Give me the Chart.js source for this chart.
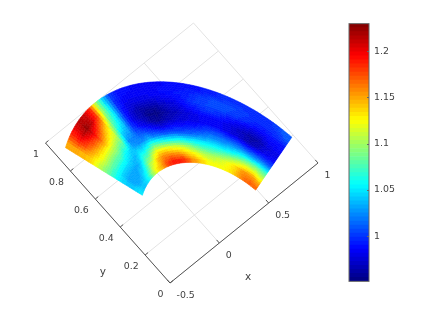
<!DOCTYPE html>
<html>
<head>
<meta charset="utf-8">
<script src="https://cdn.jsdelivr.net/npm/chart.js@4"></script>
<style>
    html, body { margin: 0; padding: 0; background: #fff; overflow: hidden; }
    #surfaceChart { position: absolute; left: 0; top: 0; }
    #colorbarChart { position: absolute; left: 340px; top: 13px; }
</style>
</head>
<body>
<canvas id="surfaceChart" width="423" height="317"></canvas>
<canvas id="colorbarChart" width="80" height="279"></canvas>
<script>
// Axis ticks
const xTicks = [-0.5, 0, 0.5, 1];
const xTickLabels = ['-0.5', '0', '0.5', '1'];
const yTicks = [0, 0.2, 0.4, 0.6, 0.8, 1];
const yTickLabels = ['0', '0.2', '0.4', '0.6', '0.8', '1'];
const cbarTicks = [1, 1.05, 1.1, 1.15, 1.2];
const cbarMin = 0.9512;
const cbarMax = 1.2298;

// Mesh edges, polar
const rMin = 0.5;
const rMax = 1;
const thetaMin = 11.25;
const thetaMax = 114;

// Surface values, inner ring first, each one running from the small angle to the large one
const ring0 = [1.165,1.17,1.165,1.155,1.14,1.13,1.125,1.122,1.122,1.125,1.135,1.145,1.155,1.17,1.185,1.188,1.188,1.185,1.17,1.15,1.135,1.12,1.095,1.065,1.05,1.04,1.04,1.05];
const ring1 = [1.145,1.155,1.155,1.15,1.135,1.125,1.115,1.11,1.105,1.105,1.11,1.12,1.13,1.14,1.15,1.155,1.16,1.16,1.155,1.14,1.115,1.1,1.065,1.045,1.035,1.03,1.03,1.04];
const ring2 = [1.11,1.12,1.12,1.115,1.105,1.095,1.085,1.078,1.075,1.075,1.078,1.085,1.095,1.105,1.112,1.115,1.12,1.125,1.125,1.105,1.08,1.07,1.045,1.033,1.03,1.03,1.03,1.04];
const ring3 = [1.08,1.085,1.08,1.075,1.065,1.055,1.05,1.05,1.05,1.047,1.047,1.048,1.05,1.055,1.058,1.06,1.065,1.07,1.075,1.06,1.05,1.05,1.035,1.04,1.045,1.045,1.045,1.05];
const ring4 = [1.035,1.035,1.03,1.03,1.03,1.028,1.025,1.025,1.025,1.02,1.015,1.012,1.01,1.01,1.01,1.01,1.015,1.02,1.03,1.025,1.025,1.03,1.045,1.055,1.065,1.065,1.065,1.065];
const ring5 = [1.0,1.0,0.998,0.995,1.0,1.0,1.002,1.005,1.005,1.0,0.995,0.992,0.99,0.99,0.985,0.98,0.985,0.995,1.005,1.01,1.02,1.025,1.07,1.08,1.09,1.09,1.09,1.085];
const ring6 = [0.985,0.98,0.97,0.965,0.97,0.975,0.98,0.985,0.985,0.985,0.98,0.978,0.975,0.97,0.965,0.958,0.962,0.975,0.985,1.0,1.03,1.04,1.095,1.105,1.115,1.115,1.115,1.105];
const ring7 = [0.98,0.975,0.965,0.962,0.968,0.975,0.98,0.985,0.985,0.985,0.98,0.975,0.97,0.965,0.958,0.953,0.955,0.965,0.975,0.995,1.04,1.06,1.115,1.13,1.145,1.14,1.135,1.125];
const ring8 = [0.985,0.982,0.975,0.975,0.98,0.985,0.99,0.995,0.998,0.995,0.99,0.985,0.975,0.972,0.965,0.96,0.96,0.965,0.975,0.995,1.045,1.075,1.13,1.155,1.175,1.165,1.155,1.14];
const ring9 = [0.99,0.99,0.988,0.99,0.995,1.0,1.003,1.005,1.005,1.002,0.998,0.99,0.985,0.98,0.978,0.975,0.975,0.975,0.98,0.995,1.05,1.09,1.155,1.18,1.2,1.19,1.175,1.145];
const ring10 = [1.0,0.998,0.995,0.995,1.0,1.003,1.005,1.005,1.003,1.0,0.995,0.992,0.99,0.988,0.985,0.985,0.983,0.983,0.985,0.998,1.05,1.1,1.18,1.21,1.225,1.21,1.185,1.15];
const ring11 = [1.012,1.0,0.998,0.998,0.998,0.998,0.998,0.995,0.993,0.99,0.99,0.988,0.988,0.986,0.985,0.985,0.985,0.987,0.99,1.0,1.045,1.105,1.185,1.21,1.215,1.2,1.18,1.15];
const rings = [ring0, ring1, ring2, ring3, ring4, ring5, ring6, ring7, ring8, ring9, ring10, ring11];

const textColor = '#404040';
const gridColor = '#e3e3e3';
const axisColor = '#555555';
const tickFont = '9.4px "DejaVu Sans"';
const shadeSteps = 3;

// 3D view flattened onto the page scales
function project(x, y) {
    return {
        x: 170 + (x + 0.5) * 98.67 - 124.5 * y,
        y: 283 - (x + 0.5) * 80 - 140 * y
    };
}

function jet(v) {
    const level = Math.min(63, Math.max(0, Math.floor((v - cbarMin) / (cbarMax - cbarMin) * 64)));
    const t = (level + 0.5) / 64;
    const ch = c => Math.round(255 * Math.min(1, Math.max(0, 1.5 - Math.abs(4 * t - c))));
    return `rgb(${ch(3)},${ch(2)},${ch(1)})`;
}

function lineSet(points, color) {
    return {
        data: points,
        showLine: true,
        borderColor: color,
        borderWidth: 1,
        pointRadius: 0
    };
}

// Chart.js paints the first dataset last, so dark axes go in before the grid
const datasets = [];
datasets.push(lineSet([project(-0.5, 1), project(-0.5, 0), project(1, 0)], axisColor));
xTicks.forEach(x => datasets.push(lineSet([project(x, 0), project(x, 0.022)], axisColor)));
yTicks.forEach(y => datasets.push(lineSet([project(-0.5, y), project(-0.47, y)], axisColor)));
xTicks.forEach(x => datasets.push(lineSet([project(x, 0), project(x, 1)], gridColor)));
yTicks.forEach(y => datasets.push(lineSet([project(-0.5, y), project(1, y)], gridColor)));

// One point per mesh node, the plugin below shades the surface between them
const dr = (rMax - rMin) / rings.length;
const dTheta = (thetaMax - thetaMin) / ring0.length;
function polar(r, theta) {
    const a = theta * Math.PI / 180;
    return project(r * Math.cos(a), r * Math.sin(a));
}
const nodes = [];
rings.forEach((ring, i) => ring.forEach((v, j) => {
    const r = rMin + (i + 0.5) * dr;
    const theta = thetaMin + (j + 0.5) * dTheta;
    nodes.push({ ...polar(r, theta), r, theta, v });
}));
datasets.push({ label: 'surface', data: nodes, pointRadius: 0 });

// Interpolated shading, like shading interp in the original plot
function shade(r, theta) {
    const u = Math.min(rings.length - 1, Math.max(0, (r - rMin) / dr - 0.5));
    const w = Math.min(ring0.length - 1, Math.max(0, (theta - thetaMin) / dTheta - 0.5));
    const i = Math.min(rings.length - 2, Math.floor(u));
    const j = Math.min(ring0.length - 2, Math.floor(w));
    const a = u - i, b = w - j;
    return (1 - a) * ((1 - b) * rings[i][j] + b * rings[i][j + 1]) + a * ((1 - b) * rings[i + 1][j] + b * rings[i + 1][j + 1]);
}

const surfacePlugin = {
    id: 'surfacePlugin',
    afterDatasetsDraw(chart) {
        const { ctx, scales } = chart;
        const sr = dr / shadeSteps;
        const st = dTheta / shadeSteps;
        ctx.save();
        ctx.lineWidth = 0.6;
        for (let i = 0; i < rings.length * shadeSteps; i++) {
            for (let j = 0; j < ring0.length * shadeSteps; j++) {
                const r = rMin + i * sr;
                const t = thetaMin + j * st;
                const corners = [polar(r, t), polar(r + sr, t), polar(r + sr, t + st), polar(r, t + st)];
                ctx.fillStyle = ctx.strokeStyle = jet(shade(r + sr / 2, t + st / 2));
                ctx.beginPath();
                corners.forEach((p, k) => {
                    const px = scales.x.getPixelForValue(p.x);
                    const py = scales.y.getPixelForValue(p.y);
                    k ? ctx.lineTo(px, py) : ctx.moveTo(px, py);
                });
                ctx.closePath();
                ctx.fill();
                ctx.stroke();
            }
        }
        ctx.restore();
    },
    afterDraw(chart) {
        const { ctx, scales } = chart;
        const put = (text, p, dx, dy, align, font) => {
            ctx.font = font;
            ctx.textAlign = align;
            ctx.textBaseline = 'middle';
            ctx.fillStyle = textColor;
            ctx.fillText(text, scales.x.getPixelForValue(p.x) + dx, scales.y.getPixelForValue(p.y) + dy);
        };
        ctx.save();
        xTicks.forEach((x, i) => put(xTickLabels[i], project(x, 0), 6.5, 13, 'left', tickFont));
        yTicks.forEach((y, i) => put(yTickLabels[i], project(-0.5, y), -6.5, 11.5, 'right', tickFont));
        put('x', project(0.25, 0), 4, 54, 'center', '10.5px "DejaVu Sans"');
        put('y', project(-0.5, 0.5), -5, 59, 'center', '10.5px "DejaVu Sans"');
        ctx.restore();
    }
};

new Chart(document.getElementById('surfaceChart').getContext('2d'), {
    type: 'scatter',
    data: { datasets },
    plugins: [surfacePlugin],
    options: {
        responsive: false,
        animation: false,
        layout: { padding: 0 },
        plugins: { legend: { display: false }, tooltip: { enabled: false } },
        scales: {
            x: { type: 'linear', display: false, min: 0, max: 423 },
            y: { type: 'linear', display: false, min: 0, max: 317, reverse: true }
        }
    }
});

// Colorbar, 64 floating segments on a real value axis
const cbarSets = [];
for (let k = 0; k < 64; k++) {
    const lo = cbarMin + (cbarMax - cbarMin) * k / 64;
    const hi = cbarMin + (cbarMax - cbarMin) * (k + 1) / 64;
    cbarSets.push({
        data: [[lo, hi]],
        backgroundColor: jet((lo + hi) / 2),
        barPercentage: 1,
        categoryPercentage: 1,
        grouped: false
    });
}

const cbarFrame = {
    id: 'cbarFrame',
    afterDatasetsDraw(chart) {
        const { ctx, chartArea, scales } = chart;
        ctx.save();
        ctx.strokeStyle = '#666666';
        ctx.lineWidth = 1;
        ctx.strokeRect(chartArea.left, chartArea.top, chartArea.right - chartArea.left, chartArea.bottom - chartArea.top);
        cbarTicks.forEach(v => {
            const y = Math.round(scales.y.getPixelForValue(v)) + 0.5;
            ctx.beginPath();
            ctx.moveTo(chartArea.right - 2, y);
            ctx.lineTo(chartArea.right, y);
            ctx.stroke();
        });
        ctx.restore();
    }
};

new Chart(document.getElementById('colorbarChart').getContext('2d'), {
    type: 'bar',
    data: { labels: [''], datasets: cbarSets },
    plugins: [cbarFrame],
    options: {
        responsive: false,
        animation: false,
        layout: { padding: { left: 9, top: 10.5, bottom: 9.5, right: 0 } },
        plugins: { legend: { display: false }, tooltip: { enabled: false } },
        scales: {
            x: { display: false },
            y: {
                position: 'right',
                min: cbarMin,
                max: cbarMax,
                afterBuildTicks: s => { s.ticks = cbarTicks.map(value => ({ value })); },
                afterFit: s => { s.width = 51; },
                grid: { drawOnChartArea: false, drawTicks: false },
                border: { display: false },
                ticks: {
                    padding: 5,
                    color: textColor,
                    font: { family: 'DejaVu Sans', size: 9.4 },
                    callback: v => String(v)
                }
            }
        }
    }
});
</script>
</body>
</html>
